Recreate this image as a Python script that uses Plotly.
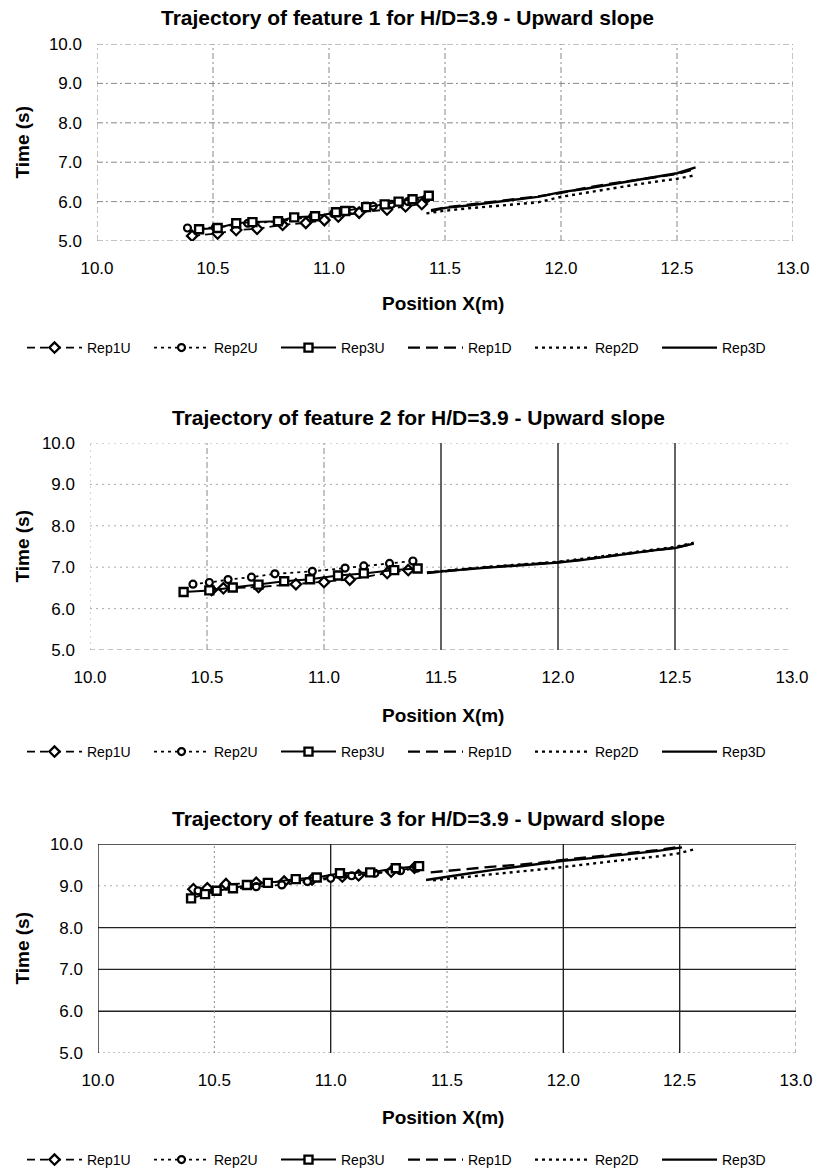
import plotly.graph_objects as go

# ---------------- data ----------------
# Chart 1 (feature 1)
c1_rep1u_x = [10.41, 10.52, 10.60, 10.69, 10.80, 10.90, 10.98, 11.04, 11.13, 11.25, 11.33, 11.40]
c1_rep1u_y = [5.13, 5.19, 5.28, 5.31, 5.41, 5.46, 5.53, 5.62, 5.72, 5.80, 5.88, 5.94]
c1_rep2u_x = [10.39, 10.51, 10.65, 10.79, 10.93, 11.02, 11.10, 11.19, 11.27, 11.34, 11.42]
c1_rep2u_y = [5.33, 5.34, 5.45, 5.50, 5.62, 5.70, 5.78, 5.88, 5.93, 6.00, 6.08]
c1_rep3u_x = [10.44, 10.52, 10.60, 10.67, 10.78, 10.85, 10.94, 11.03, 11.07, 11.16, 11.24, 11.30, 11.36, 11.43]
c1_rep3u_y = [5.30, 5.33, 5.45, 5.48, 5.50, 5.60, 5.63, 5.73, 5.76, 5.86, 5.93, 6.00, 6.06, 6.15]
c1_rep1d_x = [11.44, 11.50, 11.60, 11.70, 11.80, 11.90, 12.00, 12.10, 12.20, 12.30, 12.40, 12.50, 12.56]
c1_rep1d_y = [5.78, 5.85, 5.92, 5.99, 6.07, 6.13, 6.22, 6.34, 6.44, 6.53, 6.62, 6.70, 6.80]
c1_rep2d_x = [11.42, 11.50, 11.60, 11.70, 11.80, 11.90, 12.00, 12.10, 12.20, 12.30, 12.40, 12.50, 12.57]
c1_rep2d_y = [5.70, 5.77, 5.83, 5.88, 5.93, 5.98, 6.12, 6.22, 6.32, 6.41, 6.50, 6.58, 6.66]
c1_rep3d_x = [11.44, 11.50, 11.60, 11.70, 11.80, 11.90, 12.00, 12.10, 12.20, 12.30, 12.40, 12.50, 12.58]
c1_rep3d_y = [5.76, 5.84, 5.90, 5.97, 6.05, 6.12, 6.24, 6.32, 6.42, 6.52, 6.62, 6.72, 6.87]

# Chart 2 (feature 2)
c2_rep1u_x = [10.52, 10.57, 10.72, 10.88, 11.00, 11.11, 11.27, 11.36]
c2_rep1u_y = [6.45, 6.49, 6.52, 6.59, 6.64, 6.70, 6.86, 6.93]
c2_rep2u_x = [10.44, 10.51, 10.59, 10.69, 10.79, 10.95, 11.09, 11.17, 11.28, 11.38]
c2_rep2u_y = [6.59, 6.63, 6.70, 6.76, 6.84, 6.90, 6.98, 7.03, 7.09, 7.15]
c2_rep3u_x = [10.40, 10.51, 10.61, 10.72, 10.83, 10.94, 11.06, 11.17, 11.30, 11.40]
c2_rep3u_y = [6.40, 6.44, 6.51, 6.58, 6.66, 6.71, 6.80, 6.85, 6.93, 6.97]
c2_rep1d_x = [11.44, 11.50, 11.60, 11.70, 11.80, 11.90, 12.00, 12.10, 12.20, 12.30, 12.40, 12.50, 12.57]
c2_rep1d_y = [6.86, 6.90, 6.95, 7.00, 7.04, 7.08, 7.12, 7.18, 7.26, 7.33, 7.40, 7.47, 7.56]
c2_rep2d_x = [11.44, 11.50, 11.60, 11.70, 11.80, 11.90, 12.00, 12.10, 12.20, 12.30, 12.40, 12.50, 12.58]
c2_rep2d_y = [6.87, 6.91, 6.96, 7.01, 7.05, 7.09, 7.13, 7.20, 7.27, 7.34, 7.42, 7.49, 7.59]
c2_rep3d_x = [11.44, 11.50, 11.60, 11.70, 11.80, 11.90, 12.00, 12.10, 12.20, 12.30, 12.40, 12.50, 12.58]
c2_rep3d_y = [6.87, 6.90, 6.94, 6.99, 7.03, 7.07, 7.11, 7.17, 7.25, 7.33, 7.40, 7.46, 7.57]

# Chart 3 (feature 3)
c3_rep1u_x = [10.41, 10.47, 10.55, 10.68, 10.80, 10.92, 11.05, 11.12, 11.26, 11.36]
c3_rep1u_y = [8.92, 8.94, 9.04, 9.07, 9.10, 9.15, 9.22, 9.25, 9.34, 9.43]
c3_rep2u_x = [10.43, 10.50, 10.68, 10.79, 10.90, 11.00, 11.09, 11.19, 11.30, 11.37]
c3_rep2u_y = [8.88, 8.88, 8.98, 9.02, 9.10, 9.18, 9.24, 9.30, 9.36, 9.42]
c3_rep3u_x = [10.40, 10.46, 10.51, 10.58, 10.64, 10.73, 10.85, 10.94, 11.04, 11.17, 11.28, 11.38]
c3_rep3u_y = [8.70, 8.80, 8.88, 8.94, 9.02, 9.07, 9.16, 9.20, 9.30, 9.32, 9.42, 9.47]
c3_rep1d_x = [11.43, 11.50, 11.60, 11.70, 11.80, 11.90, 12.00, 12.10, 12.20, 12.30, 12.40, 12.50]
c3_rep1d_y = [9.32, 9.36, 9.42, 9.46, 9.50, 9.55, 9.62, 9.68, 9.73, 9.79, 9.85, 9.93]
c3_rep2d_x = [11.44, 11.50, 11.60, 11.70, 11.80, 11.90, 12.00, 12.10, 12.20, 12.30, 12.40, 12.50, 12.56]
c3_rep2d_y = [9.13, 9.16, 9.22, 9.28, 9.33, 9.39, 9.45, 9.52, 9.58, 9.64, 9.70, 9.78, 9.87]
c3_rep3d_x = [11.41, 11.50, 11.60, 11.70, 11.80, 11.90, 12.00, 12.10, 12.20, 12.30, 12.40, 12.51]
c3_rep3d_y = [9.14, 9.22, 9.30, 9.38, 9.45, 9.52, 9.60, 9.65, 9.71, 9.77, 9.83, 9.92]

series_names = ["Rep1U", "Rep2U", "Rep3U", "Rep1D", "Rep2D", "Rep3D"]
chart_titles = [
    "Trajectory of feature 1 for H/D=3.9 - Upward slope",
    "Trajectory of feature 2 for H/D=3.9 - Upward slope",
    "Trajectory of feature 3 for H/D=3.9 - Upward slope",
]
x_title = "Position X(m)"
y_title = "Time (s)"
x_ticks = [10.0, 10.5, 11.0, 11.5, 12.0, 12.5, 13.0]
y_ticks = [5.0, 6.0, 7.0, 8.0, 9.0, 10.0]

charts = [
    [(c1_rep1u_x, c1_rep1u_y), (c1_rep2u_x, c1_rep2u_y), (c1_rep3u_x, c1_rep3u_y),
     (c1_rep1d_x, c1_rep1d_y), (c1_rep2d_x, c1_rep2d_y), (c1_rep3d_x, c1_rep3d_y)],
    [(c2_rep1u_x, c2_rep1u_y), (c2_rep2u_x, c2_rep2u_y), (c2_rep3u_x, c2_rep3u_y),
     (c2_rep1d_x, c2_rep1d_y), (c2_rep2d_x, c2_rep2d_y), (c2_rep3d_x, c2_rep3d_y)],
    [(c3_rep1u_x, c3_rep1u_y), (c3_rep2u_x, c3_rep2u_y), (c3_rep3u_x, c3_rep3u_y),
     (c3_rep1d_x, c3_rep1d_y), (c3_rep2d_x, c3_rep2d_y), (c3_rep3d_x, c3_rep3d_y)],
]

# ---------------- styles ----------------
W, H = 817, 1169
FONT = "Liberation Sans, Arial, sans-serif"

series_style = [
    dict(mode="lines+markers", line=dict(color="black", width=1.8, dash="8px,5px"),
         marker=dict(symbol="diamond", size=8, color="white", line=dict(color="black", width=2.2))),
    dict(mode="lines+markers", line=dict(color="black", width=1.8, dash="3px,4px"),
         marker=dict(symbol="circle", size=7, color="white", line=dict(color="black", width=2.2))),
    dict(mode="lines+markers", line=dict(color="black", width=2),
         marker=dict(symbol="square", size=8, color="white", line=dict(color="black", width=2.4))),
    dict(mode="lines", line=dict(color="black", width=2.4, dash="12px,6px")),
    dict(mode="lines", line=dict(color="black", width=2.4, dash="3px,4px")),
    dict(mode="lines", line=dict(color="black", width=2.4)),
]

# plot-area pixel boxes (left, right, top, bottom)
boxes = [(97, 793, 44, 241), (90, 792, 443, 650), (98, 796, 844, 1053)]
title_pos = [(407, 18), (418, 417), (418, 818)]
xtitle_pos = [(443, 304), (443, 715), (443, 1117)]
legend_y = [348, 752, 1160]

dd = dict(color="#888", width=1, dash="6px,3px,2px,3px")
faint_dot = dict(color="#aaa", width=1, dash="2px,4px")
dark = dict(color="#222", width=1.4)
mid_dot = dict(color="#888", width=1, dash="2px,3px")
grid_styles = [
    dict(h={v: dd for v in y_ticks}, v={v: dd for v in x_ticks}),
    dict(h={5.0: dict(color="#888", width=1, dash="5px,4px"), 6.0: faint_dot, 7.0: faint_dot,
            8.0: faint_dot, 9.0: faint_dot, 10.0: faint_dot},
         v={10.0: faint_dot, 10.5: dd, 11.0: dd, 11.5: dark, 12.0: dark, 12.5: dark}),
    dict(h={5.0: mid_dot, 6.0: dark, 7.0: dark, 8.0: dark, 9.0: faint_dot, 10.0: dark},
         v={10.0: dark, 10.5: mid_dot, 11.0: dark, 11.5: mid_dot, 12.0: dark, 12.5: dark,
            13.0: dict(color="#777", width=1, dash="4px,3px")}),
]

def px_x(p):
    return p / W

def px_y(p):
    return 1 - p / H

fig = go.Figure()
layout = dict(width=W, height=H, margin=dict(l=0, r=0, t=0, b=0, autoexpand=False),
              paper_bgcolor="white", plot_bgcolor="white",
              font=dict(family=FONT, color="black"), annotations=[], shapes=[])

for i, data in enumerate(charts):
    n = i + 1
    xa = "x" if n == 1 else f"x{n}"
    ya = "y" if n == 1 else f"y{n}"
    lg = "legend" if n == 1 else f"legend{n}"
    for name, (xs, ys), st in zip(series_names, data, series_style):
        fig.add_trace(go.Scatter(x=xs, y=ys, name=name, xaxis=xa, yaxis=ya, legend=lg,
                                 showlegend=True, **st))
    l, r, t, b = boxes[i]
    layout[f"xaxis{'' if n == 1 else n}"] = dict(
        domain=[px_x(l), px_x(r)], anchor=ya, range=[10, 13], tickvals=x_ticks,
        ticktext=[f"{v:.1f}" for v in x_ticks], showgrid=False, zeroline=False,
        showline=False, ticks="", ticklabelstandoff=15, automargin=False,
        tickfont=dict(family=FONT, size=17, color="black"))
    layout[f"yaxis{'' if n == 1 else n}"] = dict(
        domain=[px_y(b), px_y(t)], anchor=xa, range=[5, 10], tickvals=y_ticks,
        ticktext=[f"{v:.1f}" for v in y_ticks], showgrid=False, zeroline=False,
        showline=False, ticks="", ticklabelstandoff=14, automargin=False,
        tickfont=dict(family=FONT, size=17, color="black"))
    gs = grid_styles[i]
    for yv, lst in gs["h"].items():
        layout["shapes"].append(dict(type="line", xref=xa, yref=ya, x0=10, x1=13, y0=yv, y1=yv,
                                     line=lst, layer="below"))
    for xv, lst in gs["v"].items():
        layout["shapes"].append(dict(type="line", xref=xa, yref=ya, x0=xv, x1=xv, y0=5, y1=10,
                                     line=lst, layer="below"))
    tx, ty = title_pos[i]
    layout["annotations"].append(dict(text=f"<b>{chart_titles[i]}</b>", xref="paper", yref="paper",
                                      x=px_x(tx), y=px_y(ty), xanchor="center", yanchor="middle",
                                      showarrow=False, font=dict(family=FONT, size=21)))
    ax, ay = xtitle_pos[i]
    layout["annotations"].append(dict(text=f"<b>{x_title}</b>", xref="paper", yref="paper",
                                      x=px_x(ax), y=px_y(ay), xanchor="center", yanchor="middle",
                                      showarrow=False, font=dict(family=FONT, size=19)))
    layout["annotations"].append(dict(text=f"<b>{y_title}</b>", xref="paper", yref="paper",
                                      x=px_x(22), y=px_y((t + b) / 2), xanchor="center",
                                      yanchor="middle", textangle=-90, showarrow=False,
                                      font=dict(family=FONT, size=19)))
    layout[lg] = dict(orientation="h", x=px_x(403), xanchor="center", y=px_y(legend_y[i]),
                      yanchor="middle", font=dict(family=FONT, size=14), itemwidth=55,
                      entrywidth=57, tracegroupgap=0, bgcolor="rgba(0,0,0,0)",
                      itemclick=False)

fig.update_layout(**layout)
fig.write_html("out.html")
